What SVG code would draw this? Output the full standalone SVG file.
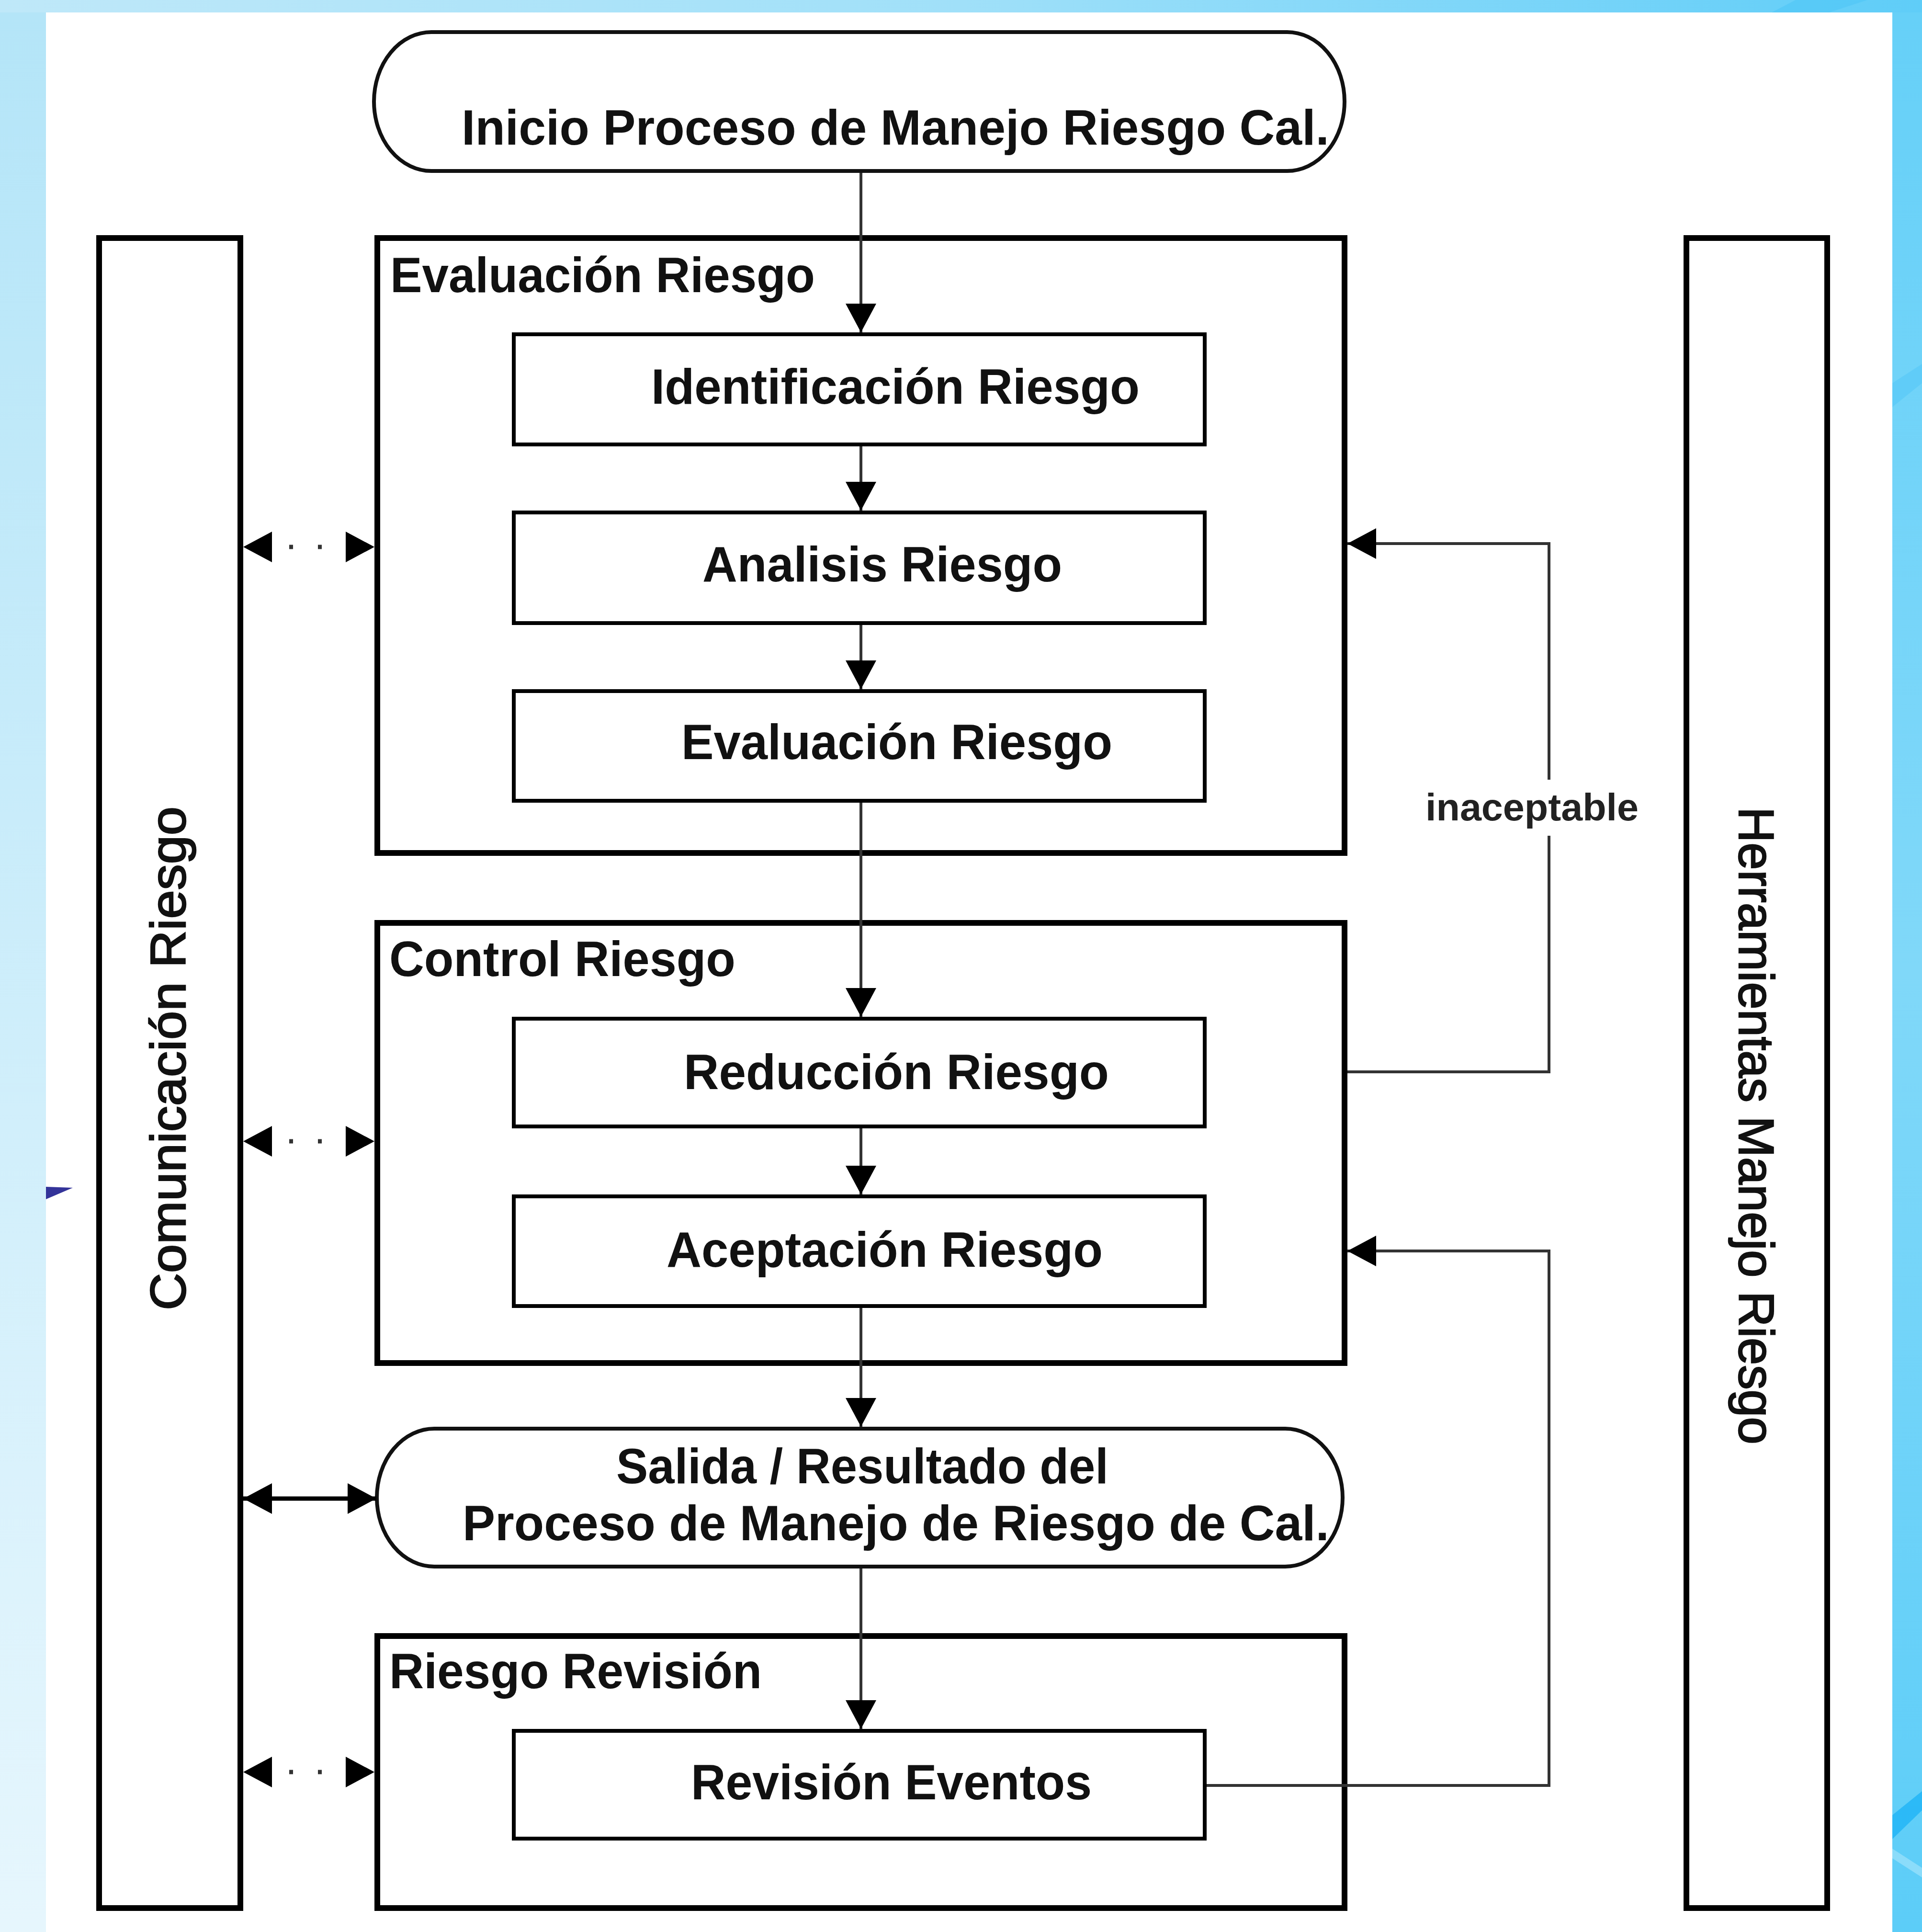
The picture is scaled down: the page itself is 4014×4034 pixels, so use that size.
<svg xmlns="http://www.w3.org/2000/svg" width="4014" height="4034" viewBox="0 0 4014 4034">
<style>
.lbl{font-family:"Liberation Sans",Arial,sans-serif;font-weight:bold;font-size:104px;fill:#111}
.side{font-family:"Liberation Sans",Arial,sans-serif;font-size:104px;fill:#111;stroke:#111;stroke-width:2.5}
.small{font-family:"Liberation Sans",Arial,sans-serif;font-weight:bold;font-size:80px;fill:#222}
.cont{fill:#fff;stroke:#000;stroke-width:12}
.box{fill:#fff;stroke:#000;stroke-width:8}
.term{fill:#fff;stroke:#111;stroke-width:8}
.conn{fill:none;stroke:#333;stroke-width:6}
.dot{fill:none;stroke:#333;stroke-width:9;stroke-dasharray:0 96 8 52 8 400}
.thick{fill:none;stroke:#000;stroke-width:9}
</style>
<defs>
<linearGradient id="bgH" x1="0" y1="0" x2="1" y2="0">
<stop offset="0" stop-color="#bfe8f9"/>
<stop offset="0.5" stop-color="#a0e0f9"/>
<stop offset="1" stop-color="#5fcdf8"/>
</linearGradient>
<linearGradient id="leftV" x1="0" y1="0" x2="0" y2="1">
<stop offset="0" stop-color="#b4e5f8"/>
<stop offset="1" stop-color="#e6f6fd"/>
</linearGradient>
<linearGradient id="rightV" x1="0" y1="0" x2="0" y2="1">
<stop offset="0" stop-color="#66d0f8"/>
<stop offset="0.5" stop-color="#80d8f9"/>
<stop offset="1" stop-color="#5ccdf8"/>
</linearGradient>
<marker id="ah" viewBox="0 0 60 64" refX="60" refY="32" markerWidth="60" markerHeight="64" markerUnits="userSpaceOnUse" orient="auto-start-reverse">
<path d="M0,0 L60,32 L0,64 z" fill="#000"/>
</marker>
</defs>
<g id="background">
<rect x="0" y="0" width="4014" height="4034" fill="url(#bgH)"/>
<rect x="0" y="26" width="96" height="4008" fill="url(#leftV)"/>
<rect x="3952" y="26" width="62" height="4008" fill="url(#rightV)"/>
<polygon points="3952,3790 4014,3740 4014,3780 3952,3840" fill="#1fb4f6" opacity="0.8"/>
<polygon points="3952,3860 4014,3900 4014,3920 3952,3880" fill="#9ee3fb" opacity="0.7"/>
<polygon points="3952,800 4014,760 4014,800 3952,850" fill="#4fc6f7" opacity="0.5"/>
<polygon points="3750,0 3900,0 3820,26 3700,26" fill="#4fc6f7" opacity="0.6"/>
<rect x="96" y="26" width="3856" height="4008" fill="#fff"/>
<polygon points="96,2478 152,2480 96,2504" fill="#333399"/>
</g>
<g id="comunicacion">
<rect class="cont" x="207" y="497" width="295" height="3487"/>
<text class="side" transform="translate(387,2736) rotate(-90)" textLength="1052" lengthAdjust="spacingAndGlyphs">Comunicación Riesgo</text>
</g>
<g id="herramientas">
<rect class="cont" x="3522" y="497" width="294" height="3487"/>
<text class="side" transform="translate(3632,1685) rotate(90)" textLength="1331" lengthAdjust="spacingAndGlyphs">Herramientas Manejo Riesgo</text>
</g>
<g id="evaluacion-group">
<rect class="cont" x="788" y="497" width="2020" height="1284"/>
<text class="lbl" x="815" y="610" textLength="887" lengthAdjust="spacingAndGlyphs">Evaluación Riesgo</text>
</g>
<g id="control-group">
<rect class="cont" x="788" y="1927" width="2020" height="919"/>
<text class="lbl" x="813" y="2038" textLength="723" lengthAdjust="spacingAndGlyphs">Control Riesgo</text>
</g>
<g id="revision-group">
<rect class="cont" x="788" y="3416" width="2020" height="568"/>
<text class="lbl" x="813" y="3525" textLength="778" lengthAdjust="spacingAndGlyphs">Riesgo Revisión</text>
</g>
<g id="inicio">
<rect class="term" x="781" y="67" width="2027" height="290" rx="120" ry="145"/>
<text class="lbl" x="964" y="302" textLength="1812" lengthAdjust="spacingAndGlyphs">Inicio Proceso de Manejo Riesgo Cal.</text>
</g>
<g id="identificacion">
<rect class="box" x="1073" y="698" width="1443" height="230"/>
<text class="lbl" x="1360" y="843" textLength="1020" lengthAdjust="spacingAndGlyphs">Identificación Riesgo</text>
</g>
<g id="analisis">
<rect class="box" x="1073" y="1070" width="1443" height="231"/>
<text class="lbl" x="1467" y="1214" textLength="751" lengthAdjust="spacingAndGlyphs">Analisis Riesgo</text>
</g>
<g id="evaluacion">
<rect class="box" x="1073" y="1443" width="1443" height="229"/>
<text class="lbl" x="1423" y="1585" textLength="900" lengthAdjust="spacingAndGlyphs">Evaluación Riesgo</text>
</g>
<g id="reduccion">
<rect class="box" x="1073" y="2127" width="1443" height="225"/>
<text class="lbl" x="1428" y="2274" textLength="888" lengthAdjust="spacingAndGlyphs">Reducción Riesgo</text>
</g>
<g id="aceptacion">
<rect class="box" x="1073" y="2498" width="1443" height="229"/>
<text class="lbl" x="1392" y="2645" textLength="911" lengthAdjust="spacingAndGlyphs">Aceptación Riesgo</text>
</g>
<g id="salida">
<rect class="term" x="787" y="2983" width="2017" height="288" rx="120" ry="144"/>
<text class="lbl" x="1287" y="3097" textLength="1028" lengthAdjust="spacingAndGlyphs">Salida / Resultado del</text>
<text class="lbl" x="966" y="3216" textLength="1810" lengthAdjust="spacingAndGlyphs">Proceso de Manejo de Riesgo de Cal.</text>
</g>
<g id="revision-eventos">
<rect class="box" x="1073" y="3614" width="1443" height="225"/>
<text class="lbl" x="1443" y="3757" textLength="837" lengthAdjust="spacingAndGlyphs">Revisión Eventos</text>
</g>
<g id="connectors">
<path class="conn" d="M1798,361 V694" marker-end="url(#ah)"/>
<path class="conn" d="M1798,932 V1066" marker-end="url(#ah)"/>
<path class="conn" d="M1798,1305 V1439" marker-end="url(#ah)"/>
<path class="conn" d="M1798,1676 V2123" marker-end="url(#ah)"/>
<path class="conn" d="M1798,2356 V2494" marker-end="url(#ah)"/>
<path class="conn" d="M1798,2731 V2979" marker-end="url(#ah)"/>
<path class="conn" d="M1798,3275 V3610" marker-end="url(#ah)"/>
<path class="conn" d="M2814,2238 H3235 V1745"/>
<path class="conn" d="M3235,1628 V1135 H2814" marker-end="url(#ah)"/>
<text class="small" x="2977" y="1713" textLength="445" lengthAdjust="spacingAndGlyphs">inaceptable</text>
<path class="conn" d="M2520,3728 H3235 V2612 H2814" marker-end="url(#ah)"/>
<path class="dot" d="M508,1142 H782" marker-start="url(#ah)" marker-end="url(#ah)"/>
<path class="dot" d="M508,2383 H782" marker-start="url(#ah)" marker-end="url(#ah)"/>
<path class="dot" d="M508,3700 H782" marker-start="url(#ah)" marker-end="url(#ah)"/>
<path class="thick" d="M508,3129 H786" marker-start="url(#ah)" marker-end="url(#ah)"/>
</g>
</svg>
